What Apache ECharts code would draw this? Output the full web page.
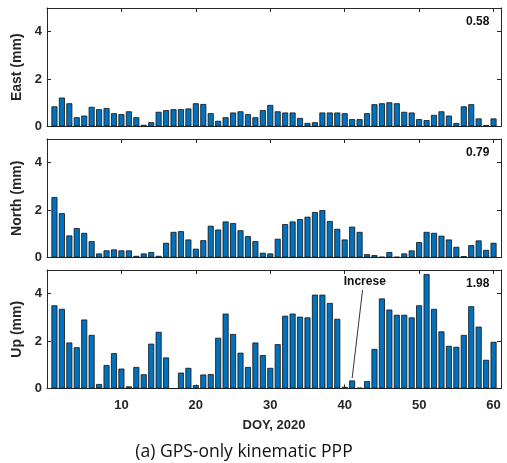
<!DOCTYPE html>
<html>
<head>
<meta charset="utf-8">
<script src="https://cdn.jsdelivr.net/npm/echarts@6/dist/echarts.min.js"></script>
<style>
html,body{margin:0;padding:0;background:#fff;}
#c{width:507px;height:463px;}
</style>
</head>
<body>
<div id="c"></div>
<script>
// ---- data ----
var days = [];
for (var d = 1; d <= 60; d++) days.push(d);
var eastValues = [0.85,1.22,0.98,0.39,0.46,0.83,0.73,0.78,0.56,0.52,
                  0.64,0.39,0.07,0.18,0.62,0.69,0.73,0.73,0.76,0.98,
                  0.95,0.56,0.24,0.39,0.59,0.64,0.52,0.39,0.69,0.91,
                  0.64,0.59,0.59,0.36,0.15,0.18,0.59,0.59,0.59,0.56,
                  0.31,0.31,0.56,0.94,0.98,1.02,0.98,0.62,0.59,0.31,
                  0.27,0.49,0.64,0.46,0.15,0.85,0.94,0.34,0.06,0.34];
var northValues = [2.55,1.87,0.93,1.24,1.04,0.69,0.17,0.30,0.34,0.30,
                   0.30,0.07,0.17,0.23,0.07,0.62,1.08,1.11,0.76,0.37,
                   0.73,1.34,1.18,1.52,1.45,1.15,0.90,0.69,0.20,0.17,
                   0.79,1.41,1.52,1.62,1.72,1.92,2.00,1.54,1.21,0.76,
                   1.30,1.08,0.14,0.10,0.03,0.23,0.03,0.17,0.30,0.65,
                   1.08,1.04,0.92,0.76,0.45,0.06,0.52,0.72,0.32,0.62];
var upValues = [3.51,3.36,1.94,1.74,2.91,2.26,0.19,0.99,1.49,0.84,
                0.09,0.91,0.60,1.89,2.39,1.31,0.00,0.67,0.87,0.14,
                0.59,0.61,2.14,3.16,2.30,1.51,0.91,1.94,1.41,0.87,
                1.87,3.07,3.16,3.03,3.00,3.96,3.96,3.61,2.94,0.07,
                0.34,0.03,0.31,1.67,3.80,3.33,3.11,3.11,3.00,3.51,
                4.83,3.36,2.41,1.80,1.76,2.26,3.47,2.61,1.21,1.97];
var panelNames = ['East (mm)', 'North (mm)', 'Up (mm)'];
var panelStats = ['0.58', '0.79', '1.98'];
var yTicks = [0, 2, 4];
var xTicks = [10, 20, 30, 40, 50, 60];
var xLabel = 'DOY, 2020';
var caption = '(a) GPS-only kinematic PPP';
var noteText = 'Increse';
var noteFrom = [42.4, 4.16];
var noteTo = [41.0, 0.44];
var noteTextAt = [42.7, 4.50];

// ---- chart ----
var chart = echarts.init(document.getElementById('c'), null, {renderer: 'canvas'});
var axisColor = '#262626';
var font = 'Liberation Sans, Arial, sans-serif';
var gridTops = [8, 139, 270];
var gridH = 118.5;
var seriesData = [eastValues, northValues, upValues];

var grids = [], xAxes = [], yAxes = [], series = [], graphics = [];
for (var i = 0; i < 3; i++) {
  grids.push({left: 47, right: 6, top: gridTops[i], height: gridH, containLabel: false});
  var isBottom = (i === 2);
  xAxes.push({
    type: 'value', gridIndex: i, position: 'bottom', min: 0, max: 61, interval: 10,
    axisLine: {show: true, onZero: false, lineStyle: {color: axisColor, width: 1}},
    axisTick: {show: true, inside: true, length: 4, lineStyle: {color: axisColor}},
    axisLabel: {show: isBottom, color: axisColor, fontFamily: font, fontWeight: 'bold', fontSize: 13, margin: 10,
      formatter: function (v) { return xTicks.indexOf(v) >= 0 ? String(v) : ''; }},
    splitLine: {show: false},
    name: isBottom ? xLabel : '', nameLocation: 'middle', nameGap: 30,
    nameTextStyle: {color: axisColor, fontFamily: font, fontWeight: 'bold', fontSize: 13}
  });
  xAxes.push({
    type: 'value', gridIndex: i, position: 'top', min: 0, max: 61, interval: 10,
    axisLine: {show: true, onZero: false, lineStyle: {color: axisColor, width: 1}},
    axisTick: {show: true, inside: true, length: 4, lineStyle: {color: axisColor}},
    axisLabel: {show: false}, splitLine: {show: false}
  });
  yAxes.push({
    type: 'value', gridIndex: i, position: 'left', min: 0, max: 5, interval: 2,
    axisLine: {show: true, onZero: false, lineStyle: {color: axisColor, width: 1}},
    axisTick: {show: true, inside: true, length: 4, lineStyle: {color: axisColor}},
    axisLabel: {show: true, color: axisColor, fontFamily: font, fontWeight: 'bold', fontSize: 13, margin: 5,
      formatter: function (v) { return yTicks.indexOf(v) >= 0 ? String(v) : ''; }},
    splitLine: {show: false},
    name: panelNames[i], nameLocation: 'middle', nameGap: 18, nameRotate: 90,
    nameTextStyle: {color: axisColor, fontFamily: font, fontWeight: 'bold', fontSize: 14}
  });
  yAxes.push({
    type: 'value', gridIndex: i, position: 'right', min: 0, max: 5, interval: 2,
    axisLine: {show: true, onZero: false, lineStyle: {color: axisColor, width: 1}},
    axisTick: {show: true, inside: true, length: 4, lineStyle: {color: axisColor}},
    axisLabel: {show: false}, splitLine: {show: false}
  });
  var data = days.map(function (dd, k) { return [dd, seriesData[i][k]]; });
  var s = {
    type: 'bar', xAxisIndex: 2 * i, yAxisIndex: 2 * i, data: data,
    barWidth: 6, silent: true, animation: false,
    itemStyle: {color: '#0072BD', borderColor: '#111', borderWidth: 0.8}
  };
  if (i === 2) {
    s.markLine = {
      silent: true, animation: false, symbol: ['none', 'arrow'], symbolSize: [0, 8],
      lineStyle: {color: '#000', width: 0.8, type: 'solid'}, label: {show: false},
      data: [[{coord: noteFrom}, {coord: noteTo}]]
    };
    s.markPoint = {
      silent: true, animation: false, symbol: 'rect', symbolSize: 1,
      itemStyle: {color: 'rgba(0,0,0,0)'},
      label: {show: true, position: 'inside', formatter: noteText, color: '#111',
        fontFamily: font, fontWeight: 'bold', fontSize: 12},
      data: [{coord: noteTextAt}]
    };
  }
  series.push(s);
  graphics.push({
    type: 'text', left: 466, top: gridTops[i] + 8,
    style: {text: panelStats[i], fill: '#111', font: 'bold 12px ' + font}
  });
}
graphics.push({
  type: 'text', x: 244, y: 452,
  style: {text: caption, fill: '#111', font: '17.5px "Open Sans", sans-serif',
    textAlign: 'center', textVerticalAlign: 'middle', align: 'center', verticalAlign: 'middle'}
});

chart.setOption({
  animation: false,
  backgroundColor: '#fff',
  grid: grids, xAxis: xAxes, yAxis: yAxes, series: series, graphic: graphics
});
</script>
</body>
</html>
